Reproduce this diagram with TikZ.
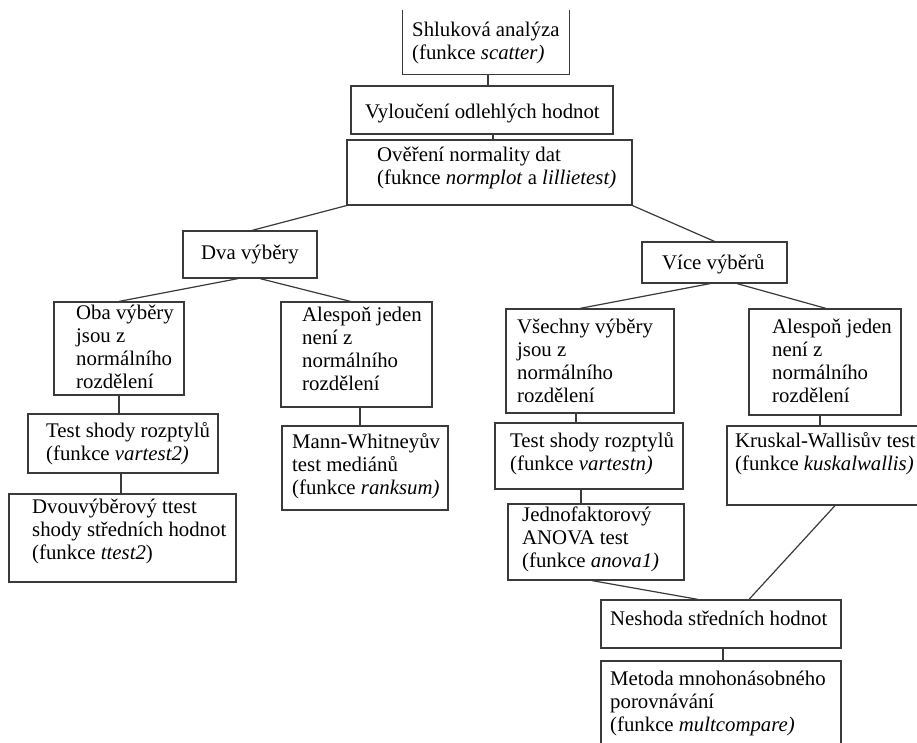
\documentclass[tikz,border=0pt]{standalone}
\usepackage{fontspec}
\setmainfont{Liberation Serif}
\usetikzlibrary{calc}
\definecolor{lc}{HTML}{3A3A3A}
\begin{document}
\begin{tikzpicture}[x=1pt,y=-1pt,
  bx/.style={draw=lc, line width=1.2pt, inner sep=0pt},
  obx/.style={inner sep=0pt},
  tx/.style={anchor=north west, inner sep=0pt, align=left, font=\fontsize{20.8}{23}\selectfont},
  cn/.style={draw=lc, line width=1.2pt}]
\useasboundingbox (0,0) rectangle (917,742);
\clip (0,0) rectangle (917,742);
\fill[white] (0,0) rectangle (917,742);
% boxes
\node[obx, minimum width=166pt, minimum height=64pt] (shluk) at (486,42) {};
\draw[cn] (shluk.north west) -- (shluk.south west) -- (shluk.south east) -- (shluk.north east);
\node[bx, minimum width=262pt, minimum height=48pt] (vylou) at (482,110) {};
\node[bx, minimum width=285pt, minimum height=65pt] (over) at (489.5,172.5) {};
\node[bx, minimum width=134pt, minimum height=47pt] (dva) at (250,254.5) {};
\node[bx, minimum width=145pt, minimum height=41pt] (vice) at (714.5,262.5) {};
\node[bx, minimum width=130pt, minimum height=93pt] (oba) at (119,348.5) {};
\node[bx, minimum width=151pt, minimum height=105pt] (alesL) at (356.5,354.5) {};
\node[bx, minimum width=190pt, minimum height=59pt] (testL) at (123,443.5) {};
\node[bx, minimum width=166pt, minimum height=84pt] (mann) at (365,468) {};
\node[bx, minimum width=227pt, minimum height=88pt] (dvou) at (122.5,538) {};
\node[bx, minimum width=168pt, minimum height=104pt] (vsech) at (590,361) {};
\node[bx, minimum width=152pt, minimum height=106pt] (alesR) at (825,362) {};
\node[bx, minimum width=188pt, minimum height=66pt] (testR) at (589,456) {};
\node[bx, minimum width=213pt, minimum height=79pt] (krus) at (833.5,465.5) {};
\node[bx, minimum width=176pt, minimum height=76pt] (jedno) at (596,542) {};
\node[bx, minimum width=240pt, minimum height=48pt] (nesh) at (721,624) {};
\node[bx, minimum width=240pt, minimum height=99pt] (metoda) at (721,710.5) {};
% texts
\node[tx] (t1) at (412,19.9) {\strut Shluková analýza\\(funkce \textit{scatter)}};
\node[tx] (t2) at (365,101.9) {\strut Vyloučení odlehlých hodnot};
\node[tx] (t3) at (377,144.9) {\strut Ověření normality dat\\(fuknce \textit{normplot} a \textit{lillietest)}};
\node[tx] (t4) at (201,242.9) {\strut Dva výběry};
\node[tx] (t5) at (662,252.9) {\strut Více výběrů};
\node[tx] (t6) at (76,302.9) {\strut Oba výběry\\jsou z\\normálního\\rozdělení};
\node[tx] (t7) at (302,304.9) {\strut Alespoň jeden\\není z\\normálního\\rozdělení};
\node[tx] (t8) at (46,420.9) {\strut Test shody rozptylů\\(funkce \textit{vartest2)}};
\node[tx] (t9) at (292,431.9) {\strut Mann-Whitneyův\\test mediánů\\(funkce \textit{ranksum)}};
\node[tx] (t10) at (32,496.9) {\strut Dvouvýběrový ttest\\shody středních hodnot\\(funkce \textit{ttest2})};
\node[tx] (t11) at (517,316.9) {\strut Všechny výběry\\jsou z\\normálního\\rozdělení};
\node[tx] (t12) at (772,316.9) {\strut Alespoň jeden\\není z\\normálního\\rozdělení};
\node[tx] (t13) at (510,430.9) {\strut Test shody rozptylů\\(funkce \textit{vartestn)}};
\node[tx] (t14) at (735,430.9) {\strut Kruskal-Wallisův test\\(funkce \textit{kuskalwallis)}};
\node[tx] (t15) at (522,504.9) {\strut Jednofaktorový\\ANOVA test\\(funkce \textit{anova1)}};
\node[tx] (t16) at (610,608.9) {\strut Neshoda středních hodnot};
\node[tx] (t17) at (610,668.9) {\strut Metoda mnohonásobného\\porovnávání\\(funkce \textit{multcompare)}};
% connectors
\draw[cn] ($(shluk.south)+(2,0)$) -- ($(vylou.north)+(6,0)$);
\draw[cn] ($(vylou.south)+(11,0)$) -- ($(over.north)+(3.5,0)$);
\draw[cn] (over.south west) -- ($(dva.north)+(2,0)$);
\draw[cn] (over.south east) -- (vice.north);
\draw[cn] ($(dva.south)+(-12,0)$) -- (oba.north);
\draw[cn] ($(dva.south)+(10,0)$) -- ($(alesL.north)+(-6,0)$);
\draw[cn] (oba.south) -- ($(testL.north)+(-4,0)$);
\draw[cn] ($(testL.south)+(-2,0)$) -- ($(dvou.north)+(-1.5,0)$);
\draw[cn] ($(alesL.south)+(3.5,0)$) -- ($(mann.north)+(-5,0)$);
\draw[cn] ($(vice.south)+(-4.5,0)$) -- ($(vsech.north)+(-10,0)$);
\draw[cn] ($(vice.south)+(22.5,0)$) -- ($(alesR.north)+(1,0)$);
\draw[cn] ($(vsech.south)+(-14,0)$) -- ($(testR.north)+(-13,0)$);
\draw[cn] ($(testR.south)+(-8,0)$) -- ($(jedno.north)+(-15,0)$);
\draw[cn] ($(alesR.south)+(-5,0)$) -- ($(krus.north)+(-13.5,0)$);
\draw[cn] ($(jedno.south)+(-4,0)$) -- ($(nesh.north)+(-23,0)$);
\draw[cn] ($(krus.south)+(1.5,0)$) -- ($(nesh.north)+(28,0)$);
\draw[cn] ($(nesh.south)+(2,0)$) -- ($(metoda.north)+(2,0)$);
\end{tikzpicture}
\end{document}
